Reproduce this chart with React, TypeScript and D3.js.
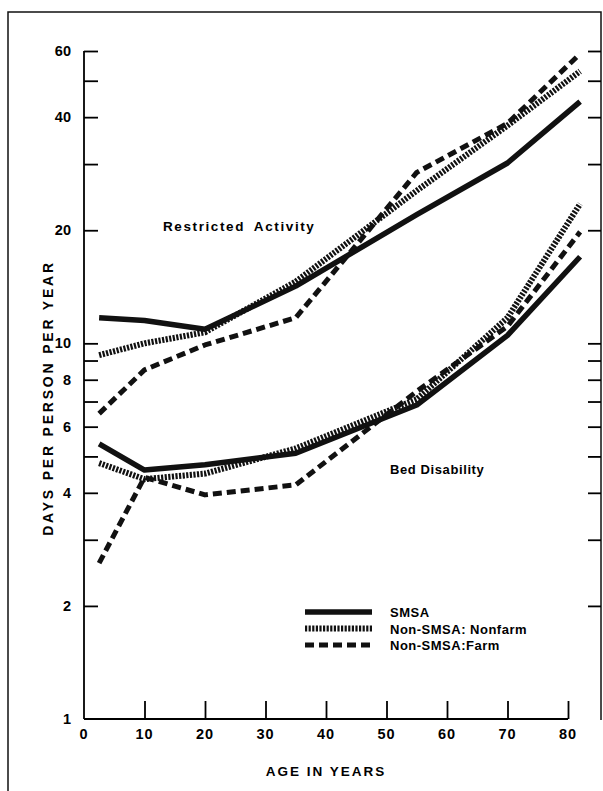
import * as d3 from "d3";
import { useEffect, useRef } from "react";

// age group midpoints
const ages = [2.5, 10, 20, 35, 55, 70, 82];

// days per person per year
const restrictedSmsa = [11.7, 11.5, 10.9, 14.2, 22, 30.2, 44];
const restrictedNonfarm = [9.3, 10.0, 10.7, 14.6, 25.5, 38, 53];
const restrictedFarm = [6.5, 8.5, 9.9, 11.7, 28.5, 38.5, 59];
const bedSmsa = [5.4, 4.6, 4.75, 5.1, 6.85, 10.5, 17];
const bedNonfarm = [4.8, 4.35, 4.5, 5.25, 7.1, 11.7, 23.5];
const bedFarm = [2.6, 4.4, 3.95, 4.2, 7.45, 11.1, 19.8];

const yTicks = [2, 3, 4, 5, 6, 7, 8, 9, 10, 20, 30, 40, 50, 60];
const yLabels = [1, 2, 4, 6, 8, 10, 20, 40, 60];
const xTicks = [0, 10, 20, 30, 40, 50, 60, 70, 80];
const legendNames = ["SMSA", "Non-SMSA: Nonfarm", "Non-SMSA:Farm"];

const W = 603;
const H = 791;
const FONT = "'Liberation Sans', Arial, sans-serif";

// stroke style per residence type
const styles = [
  { width: 5.5, dash: null },
  { width: 6, dash: "2.2,1.4" },
  { width: 5, dash: "9,5" },
];

export default function App() {
  const svgRef = useRef<SVGSVGElement>(null);

  useEffect(() => {
    const svg = d3.select(svgRef.current);
    svg.selectAll("*").remove();

    const x = d3.scaleLinear().domain([0, 80]).range([84, 568]);
    const y = d3.scaleLog().domain([1, 60]).range([719, 51]);
    const rightX = 601;

    // frame
    svg.append("path")
      .attr("d", `M8,${H} L8,12 L${rightX},12 L${rightX},720`)
      .attr("fill", "none")
      .attr("stroke", "#111")
      .attr("stroke-width", 1.5);

    // left axis
    const gy = svg.append("g").attr("transform", `translate(${x(0)},0)`);
    gy.call(
      d3.axisRight(y).tickValues(yTicks).tickSize(14).tickFormat(() => "") as any
    );
    gy.select(".domain").attr("d", `M0,${y(60)}V${y(1)}`).attr("stroke-width", 1.8);
    gy.selectAll(".tick line").attr("stroke-width", 1.8);

    // right axis ticks
    const gr = svg.append("g").attr("transform", `translate(${rightX},0)`);
    gr.call(
      d3.axisLeft(y).tickValues(yTicks).tickSize(13).tickFormat(() => "") as any
    );
    gr.select(".domain").remove();
    gr.selectAll(".tick line").attr("stroke-width", 1.8);

    // y labels
    svg.append("g")
      .selectAll("text")
      .data(yLabels)
      .join("text")
      .attr("x", x(0) - 13)
      .attr("y", (d) => y(d) + 5)
      .attr("text-anchor", "end")
      .attr("font-family", FONT)
      .attr("font-weight", "bold")
      .attr("font-size", 14.5)
      .text((d) => String(d));

    // bottom axis
    const gx = svg.append("g").attr("transform", `translate(0,${y(1)})`);
    gx.call(
      d3.axisTop(x).tickValues(xTicks.slice(1)).tickSize(18).tickFormat(() => "") as any
    );
    gx.select(".domain").attr("d", `M${x(0)},0H${x(80)}`).attr("stroke-width", 1.8);
    gx.selectAll(".tick line").attr("stroke-width", 1.8);

    svg.append("g")
      .selectAll("text")
      .data(xTicks)
      .join("text")
      .attr("x", (d) => x(d))
      .attr("y", y(1) + 20)
      .attr("text-anchor", "middle")
      .attr("font-family", FONT)
      .attr("font-weight", "bold")
      .attr("font-size", 14.5)
      .attr("letter-spacing", 1)
      .text((d) => String(d));

    // axis titles
    svg.append("text")
      .attr("x", x(40))
      .attr("y", 776)
      .attr("text-anchor", "middle")
      .attr("font-family", FONT)
      .attr("font-size", 13.5)
      .attr("letter-spacing", 2)
      .attr("font-weight", "bold")
      .text("AGE IN YEARS");

    svg.append("text")
      .attr("transform", `translate(53,398) rotate(-90)`)
      .attr("text-anchor", "middle")
      .attr("font-family", FONT)
      .attr("font-size", 14)
      .attr("letter-spacing", 2.8)
      .attr("font-weight", "bold")
      .text("DAYS PER PERSON PER YEAR");

    // series
    const line = d3.line<number>()
      .x((_, i) => x(ages[i]))
      .y((d) => y(d));

    const series = [
      { values: restrictedSmsa, style: 0 },
      { values: restrictedNonfarm, style: 1 },
      { values: restrictedFarm, style: 2 },
      { values: bedSmsa, style: 0 },
      { values: bedNonfarm, style: 1 },
      { values: bedFarm, style: 2 },
    ];

    svg.append("g")
      .selectAll("path")
      .data(series)
      .join("path")
      .attr("d", (d) => line(d.values))
      .attr("fill", "none")
      .attr("stroke", "#111")
      .attr("stroke-width", (d) => styles[d.style].width)
      .attr("stroke-dasharray", (d) => styles[d.style].dash)
      .attr("stroke-linejoin", "round");

    // group labels
    svg.append("text")
      .attr("x", 163)
      .attr("y", 231)
      .attr("font-family", FONT)
      .attr("font-weight", "bold")
      .attr("font-size", 13.5)
      .attr("letter-spacing", 1.6)
      .attr("word-spacing", 4)
      .text("Restricted Activity");

    svg.append("text")
      .attr("x", 390)
      .attr("y", 474)
      .attr("font-family", FONT)
      .attr("font-weight", "bold")
      .attr("font-size", 13)
      .attr("letter-spacing", 0.6)
      .text("Bed Disability");

    // legend
    const lg = svg.append("g");
    legendNames.forEach((name, i) => {
      const ly = 612 + i * 16.5;
      lg.append("line")
        .attr("x1", 305)
        .attr("x2", 372)
        .attr("y1", ly)
        .attr("y2", ly)
        .attr("stroke", "#111")
        .attr("stroke-width", styles[i].width)
        .attr("stroke-dasharray", styles[i].dash);
      lg.append("text")
        .attr("x", 390)
        .attr("y", ly + 5)
        .attr("font-family", FONT)
        .attr("font-weight", "bold")
        .attr("font-size", 13)
        .attr("letter-spacing", 0.5)
        .text(name);
    });
  }, []);

  return (
    <svg
      ref={svgRef}
      width={W}
      height={H}
      viewBox={`0 0 ${W} ${H}`}
      style={{ position: "absolute", left: 0, top: 0, background: "#fff" }}
    />
  );
}
